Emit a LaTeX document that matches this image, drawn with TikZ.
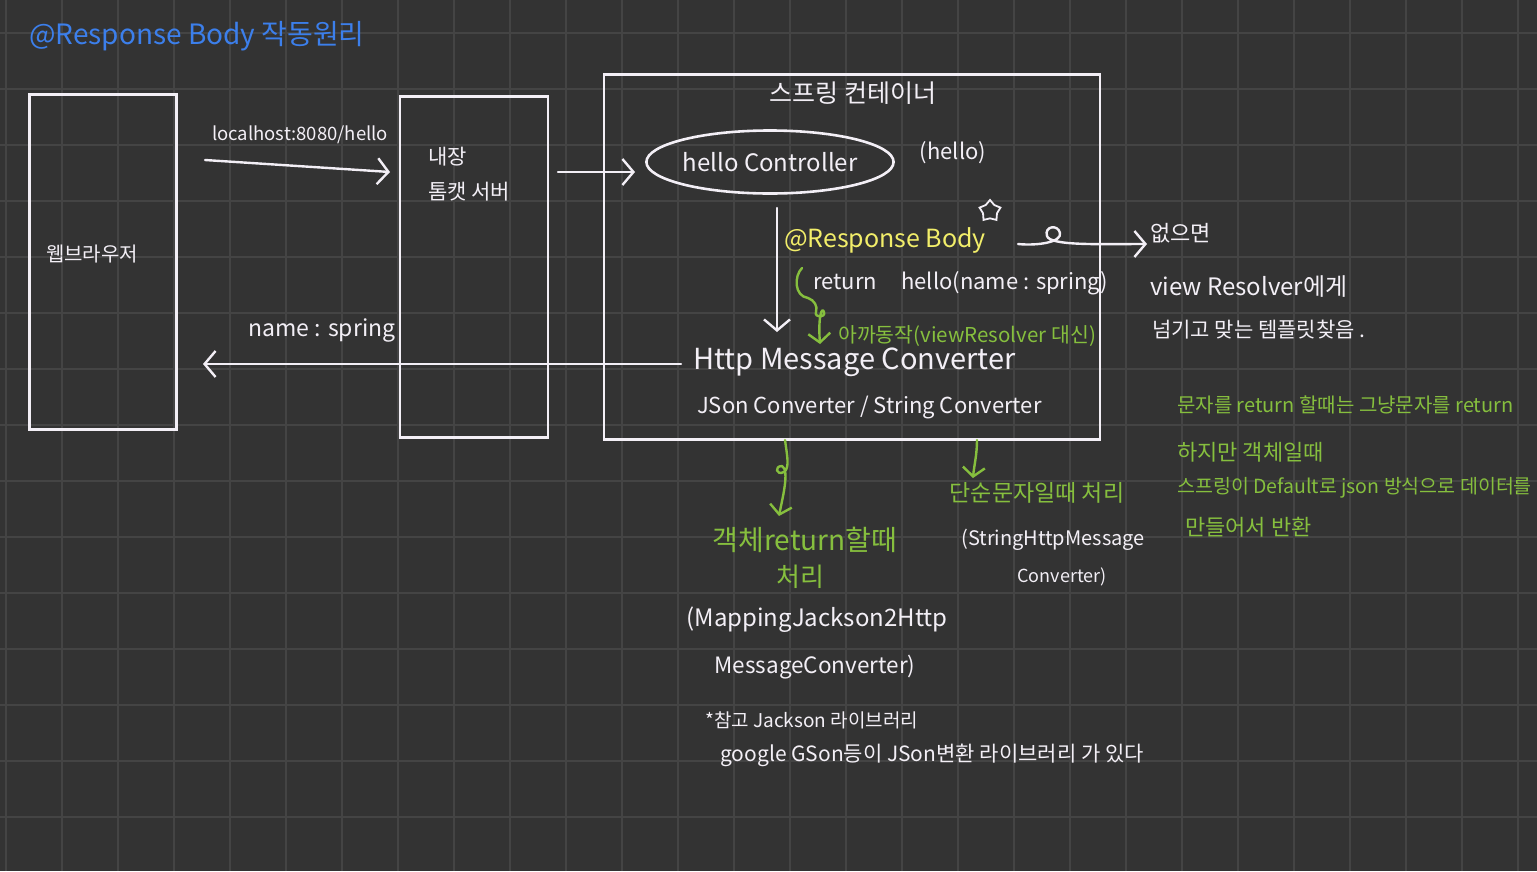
\documentclass[tikz,border=0pt]{standalone}
\usepackage{fontspec}
\setmainfont{Noto Sans CJK KR}
\usetikzlibrary{arrows.meta,shapes.geometric}

\definecolor{board}{HTML}{333333}
\definecolor{gridc}{HTML}{444444}
\definecolor{chalk}{HTML}{F3EFF6}
\definecolor{penblue}{HTML}{3C7FEB}
\definecolor{penyellow}{HTML}{F2EE6A}
\definecolor{pengreen}{HTML}{86BF3E}

\tikzset{
	hw/.style={text=chalk, inner sep=0pt, font=\fontsize{#1}{#1}\selectfont},
	gw/.style={hw=#1, text=pengreen},
	box/.style={draw=chalk, line width=2.6pt, rectangle},
	wire/.style={color=chalk, line width=2.4pt, line cap=round, line join=round},
	gwire/.style={wire, color=pengreen},
}

\begin{document}
\begin{tikzpicture}[x=1pt, y=-1pt, >={Straight Barb[length=11pt,width=26pt]}]
	% Board {background, grid}
	\fill [board] (0,0) rectangle (1537,871);
	\useasboundingbox (0,0) rectangle (1537,871);
	\foreach \gx in {6,62,...,1534} \draw [gridc, line width=1.6pt] (\gx,0) -- (\gx,871);
	\foreach \gy in {33,89,...,871} \draw [gridc, line width=1.6pt] (0,\gy) -- (1537,\gy);

	% Nodes {title, browser, tomcat, spring container}
	\node [hw=28, text=penblue]	(title)		at (197,36)	{@Response Body 작동원리};
	\node [box, minimum width=147pt, minimum height=335pt]	(browser)	at (103,262) {};
	\node [hw=20]				(browserl)	at (92,254)	{웹브라우저};
	\node [box, minimum width=148pt, minimum height=341pt]	(tomcat)	at (474,267) {};
	\node [hw=21, anchor=west]	(tomcatl1)	at (428,157)	{내장};
	\node [hw=21, anchor=west]	(tomcatl2)	at (428,192)	{톰캣 서버};
	\node [box, minimum width=496pt, minimum height=365pt]	(spring)	at (852,257) {};
	\node [hw=25]				(springl)	at (853,93)	{스프링 컨테이너};

	% Nodes inside the container
	\node [hw=24, ellipse, draw=chalk, line width=2.6pt, minimum width=245pt, minimum height=63pt] (ctrl) at (770,162) {hello Controller};
	\node [hw=22]				(ctrlname)	at (953,153)	{(hello)};
	\node [hw=25, text=penyellow]	(rbody)	at (885,240)	{@Response Body};
	\node [star, star points=5, draw=chalk, line width=1.8pt, minimum size=22pt, inner sep=0pt] (mark) at (990,211) {};
	\node [hw=22, anchor=west]	(ret)		at (813,283)	{return\hspace{1.1em}hello(name : spring)};
	\node [gw=20.5, anchor=west]	(before)	at (838,336)	{아까동작(viewResolver 대신)};
	\node [hw=29, anchor=west]	(conv)		at (693,362)	{Http Message Converter};
	\node [hw=22, anchor=west]	(convs)		at (697,408)	{JSon Converter / String Converter};

	% Nodes {labels outside}
	\node [hw=18.5]				(url)		at (300,135)	{localhost:8080/hello};
	\node [hw=23]				(answer)	at (322,330)	{name : spring};
	\node [hw=22, anchor=west]	(none)		at (1150,233)	{없으면};
	\node [hw=24, anchor=west]	(vr1)		at (1150,287)	{view Resolver에게};
	\node [hw=21, anchor=west]	(vr2)		at (1152,330)	{넘기고 맞는 템플릿찾음 .};
	\node [gw=20, anchor=west]	(note1)		at (1177,405)	{문자를 return 할때는 그냥문자를 return};
	\node [gw=22, anchor=west]	(note2)		at (1177,452)	{하지만 객체일때};
	\node [gw=19.5, anchor=west]	(note3)		at (1177,488)	{스프링이 Default로 json 방식으로 데이터를};
	\node [gw=22, anchor=west]	(note4)		at (1185,527)	{만들어서 반환};
	\node [gw=28]				(objret1)	at (805,540)	{객체return할때};
	\node [gw=26]				(objret2)	at (800,577)	{처리};
	\node [hw=24]				(jack1)		at (817,620)	{(MappingJackson2Http};
	\node [hw=22.5]				(jack2)		at (815,667)	{MessageConverter)};
	\node [gw=23]				(strret)	at (1037,493)	{단순문자일때 처리};
	\node [hw=20]				(strc1)		at (1053,540)	{(StringHttpMessage};
	\node [hw=18]				(strc2)		at (1062,577)	{Converter)};
	\node [hw=19, anchor=west]	(ref1)		at (705,720)	{*참고 Jackson 라이브러리};
	\node [hw=21, anchor=west]	(ref2)		at (720,755)	{google GSon등이 JSon변환 라이브러리 가 있다};

	% Coordinates for free ends
	\coordinate (reqa)	at (205,160);
	\coordinate (reqb)	at (390,172);
	\coordinate (fwda)	at (558,172);
	\coordinate (fwdb)	at (635,172);
	\coordinate (downa)	at (777,208);
	\coordinate (downb)	at (777,332);
	\coordinate (backa)	at (681,364);
	\coordinate (backb)	at (203,364);
	\coordinate (noa)	at (1018,244);
	\coordinate (nob)	at (1147,244);
	\coordinate (ga)	at (802,268);
	\coordinate (gb)	at (820,344);
	\coordinate (oa)	at (785,440);
	\coordinate (ob)	at (779,516);
	\coordinate (sa)	at (977,440);
	\coordinate (sb)	at (973,478);

	% Paths
	\path [->, wire]	(reqa) edge (reqb);
	\path [->, wire]	(fwda) edge (fwdb);
	\path [->, wire]	(downa) edge (downb);
	\path [->, wire]	(backa) edge (backb);
	\draw [->, wire]	(noa) .. controls (1038,246) and (1062,242) .. (1060,233)
		.. controls (1058,224) and (1044,226) .. (1047,236)
		.. controls (1050,246) and (1100,244) .. (nob);
	\draw [->, gwire, >={Straight Barb[length=9pt,width=22pt]}] (ga) .. controls (794,276) and (794,296) .. (808,298)
		.. controls (814,300) and (818,306) .. (816,312)
		.. controls (814,318) and (826,318) .. (824,312)
		.. controls (822,306) and (818,316) .. (gb);
	\draw [->, gwire, >={Straight Barb[length=9pt,width=22pt]}] (oa) .. controls (787,455) and (790,468) .. (784,472)
		.. controls (776,476) and (774,466) .. (782,466)
		.. controls (790,470) and (782,500) .. (ob);
	\draw [->, gwire, >={Straight Barb[length=9pt,width=22pt]}] (sa) .. controls (977,455) and (974,466) .. (sb);
\end{tikzpicture}
\end{document}
